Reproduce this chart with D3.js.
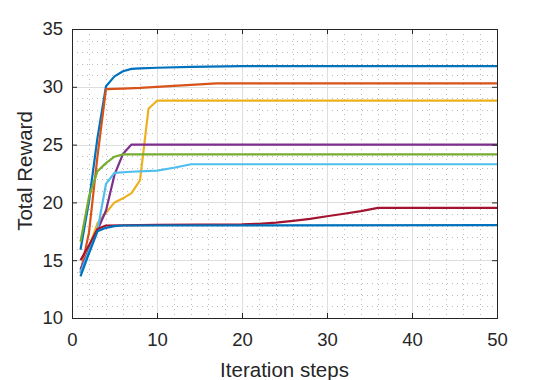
<!DOCTYPE html>
<html>
<head>
<meta charset="utf-8">
<script src="https://cdn.jsdelivr.net/npm/d3@7"></script>
<style>
    body { margin: 0; background: #fff; }
    svg text { font-family: "Liberation Sans", Arial, sans-serif; fill: #262626; }
</style>
</head>
<body>
<svg id="chart"></svg>
<script>
'use strict';

const WIDTH = 550;
const HEIGHT = 380;
const LEFT = 72;
const RIGHT = 497;
const TOP = 29;
const BOTTOM = 318;

// tick values
const xTicks = [0, 10, 20, 30, 40, 50];
const yTicks = [10, 15, 20, 25, 30, 35];
const xMinor = [2, 4, 6, 8, 12, 14, 16, 18, 22, 24, 26, 28, 32, 34, 36, 38, 42, 44, 46, 48];
const yMinor = [11, 12, 13, 14, 16, 17, 18, 19, 21, 22, 23, 24, 26, 27, 28, 29, 31, 32, 33, 34];

// [iteration step, total reward]
const blueTop = [[1, 15.9], [2, 20.1], [3, 25.6], [4, 30.05], [5, 30.9], [6, 31.35], [7, 31.55], [8, 31.6],
                 [10, 31.65], [14, 31.72], [20, 31.78], [50, 31.78]];
const orange = [[1, 13.9], [2, 17.4], [3, 24.0], [4, 29.8], [6, 29.85], [8, 29.9], [10, 30.0], [12, 30.08],
                [14, 30.16], [16, 30.25], [17, 30.3], [50, 30.3]];
const yellow = [[1, 14.1], [2, 16.1], [3, 18.2], [4, 19.1], [5, 20.0], [6, 20.35], [7, 20.8], [8, 21.9],
                [9, 28.1], [10, 28.8], [50, 28.8]];
const purple = [[1, 14.2], [2, 15.9], [3, 17.6], [4, 19.3], [5, 22.4], [6, 24.2], [7, 25.0], [50, 25.0]];
const green = [[1, 16.6], [2, 20.5], [3, 22.7], [4, 23.4], [5, 23.95], [6, 24.15], [50, 24.15]];
const lightBlue = [[1, 13.9], [2, 15.8], [3, 17.6], [4, 21.6], [5, 22.55], [7, 22.65], [10, 22.75], [12, 23.0],
                   [14, 23.3], [50, 23.3]];
const red = [[1, 15.0], [2, 16.3], [3, 17.7], [4, 18.0], [10, 18.05], [20, 18.1], [22, 18.15], [24, 18.25],
             [26, 18.4], [28, 18.58], [30, 18.8], [32, 19.02], [34, 19.25], [36, 19.52], [50, 19.52]];
const blueBottom = [[1, 13.6], [2, 15.6], [3, 17.5], [4, 17.8], [5, 17.95], [6, 18.0], [50, 18.03]];

const series = [blueTop, orange, yellow, purple, green, lightBlue, red, blueBottom];
const colors = ["#0072BD", "#D95319", "#EDB120", "#7E2F8E", "#77AC30", "#4DBEEE", "#A2142F", "#0072BD"];

const svg = d3.select("svg#chart")
              .attr("width", WIDTH)
              .attr("height", HEIGHT);

const xScale = d3.scaleLinear().domain([0, 50]).range([LEFT, RIGHT]);
const yScale = d3.scaleLinear().domain([10, 35]).range([BOTTOM, TOP]);

// minor grid, dotted
svg.append("g")
   .selectAll("line")
   .data(xMinor)
   .enter()
   .append("line")
   .attr("x1", d => Math.round(xScale(d)) + 0.5).attr("x2", d => Math.round(xScale(d)) + 0.5)
   .attr("y1", TOP).attr("y2", BOTTOM)
   .attr("stroke", "#bdbdbd").attr("stroke-dasharray", "1,4");
svg.append("g")
   .selectAll("line")
   .data(yMinor)
   .enter()
   .append("line")
   .attr("y1", d => Math.round(yScale(d)) + 0.5).attr("y2", d => Math.round(yScale(d)) + 0.5)
   .attr("x1", LEFT).attr("x2", RIGHT)
   .attr("stroke", "#bdbdbd").attr("stroke-dasharray", "1,4");

// major grid
svg.append("g")
   .selectAll("line")
   .data(xTicks.slice(1, -1))
   .enter()
   .append("line")
   .attr("x1", d => Math.round(xScale(d)) + 0.5).attr("x2", d => Math.round(xScale(d)) + 0.5)
   .attr("y1", TOP).attr("y2", BOTTOM)
   .attr("stroke", "#dedede");
svg.append("g")
   .selectAll("line")
   .data(yTicks.slice(1, -1))
   .enter()
   .append("line")
   .attr("y1", d => Math.round(yScale(d)) + 0.5).attr("y2", d => Math.round(yScale(d)) + 0.5)
   .attr("x1", LEFT).attr("x2", RIGHT)
   .attr("stroke", "#dedede");

// series
const line = d3.line().x(d => xScale(d[0])).y(d => yScale(d[1]));
svg.append("g")
   .selectAll("path")
   .data(series)
   .enter()
   .append("path")
   .attr("fill", "none")
   .attr("stroke", (d, i) => colors[i])
   .attr("stroke-width", 2.2)
   .attr("stroke-linejoin", "round")
   .attr("d", line);

// axes, ticks pointing inwards like matlab
const styleAxis = g => {
    g.select(".domain").remove();
    g.selectAll(".tick line").attr("stroke", "#262626");
    g.selectAll(".tick text").style("font-size", "18.5px").attr("fill", "#262626");
};

svg.append("g")
   .attr("transform", "translate(0," + BOTTOM + ")")
   .call(d3.axisBottom(xScale).tickValues(xTicks).tickSize(-5).tickPadding(15).tickFormat(d3.format("d")))
   .call(styleAxis);
svg.append("g")
   .attr("transform", "translate(0," + TOP + ")")
   .call(d3.axisTop(xScale).tickValues(xTicks).tickSize(-5).tickFormat(""))
   .call(styleAxis);
svg.append("g")
   .attr("transform", "translate(" + LEFT + ",0)")
   .call(d3.axisLeft(yScale).tickValues(yTicks).tickSize(-5).tickPadding(9).tickFormat(d3.format("d")))
   .call(styleAxis);
svg.append("g")
   .attr("transform", "translate(" + RIGHT + ",0)")
   .call(d3.axisRight(yScale).tickValues(yTicks).tickSize(-5).tickFormat(""))
   .call(styleAxis);

// box
svg.append("rect")
   .attr("x", LEFT + 0.5).attr("y", TOP + 0.5)
   .attr("width", RIGHT - LEFT).attr("height", BOTTOM - TOP)
   .attr("fill", "none")
   .attr("stroke", "#262626");

svg.append("text")
   .attr("x", (LEFT + RIGHT) / 2)
   .attr("y", 377)
   .attr("text-anchor", "middle")
   .style("font-size", "20.5px")
   .text("Iteration steps");

svg.append("text")
   .attr("transform", "translate(31.5," + 171 + ") rotate(-90)")
   .attr("text-anchor", "middle")
   .style("font-size", "20.5px")
   .text("Total Reward");
</script>
</body>
</html>
